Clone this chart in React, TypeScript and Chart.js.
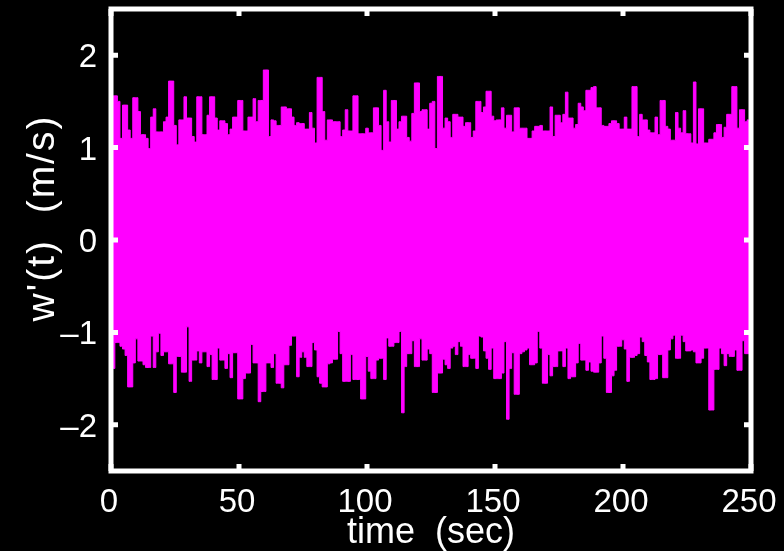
import { useEffect, useRef } from "react";
import { Chart, registerables } from "chart.js";

Chart.register(...registerables);

// sampling of the envelope (seconds)
const startTime = 0;
const sampleInterval = 1;

// upper envelope of w'(t) (m/s), one value per second, t = 0..250
const upperEnvelope = [
  1.55, 1.56, 1.56, 1.50, 1.10, 1.46, 1.46, 1.19, 1.10, 1.54,
  1.54, 1.39, 1.14, 1.14, 1.10, 0.99, 1.33, 1.42, 1.17, 1.17,
  1.17, 1.28, 1.33, 1.72, 1.72, 1.24, 1.03, 1.30, 1.30, 1.55,
  1.32, 1.32, 1.12, 1.06, 1.55, 1.55, 1.14, 1.14, 1.35, 1.55,
  1.55, 1.32, 1.19, 1.29, 1.29, 1.26, 1.14, 1.20, 1.33, 1.33,
  1.51, 1.51, 1.18, 1.18, 1.33, 1.33, 1.53, 1.28, 1.51, 1.51,
  1.84, 1.84, 1.12, 1.30, 1.29, 1.24, 1.24, 1.44, 1.44, 1.42,
  1.42, 1.33, 1.24, 1.27, 1.26, 1.26, 1.20, 1.20, 1.38, 1.21,
  1.05, 1.76, 1.76, 1.39, 1.08, 1.30, 1.30, 1.28, 1.28, 1.28,
  1.12, 1.19, 1.41, 1.18, 1.18, 1.56, 1.56, 1.15, 1.15, 1.15,
  1.21, 1.16, 1.16, 1.43, 1.43, 1.24, 0.97, 1.62, 1.28, 1.06,
  1.51, 1.51, 1.20, 1.28, 1.34, 1.34, 1.11, 1.07, 1.37, 1.70,
  1.70, 1.39, 1.41, 1.41, 1.20, 1.48, 1.50, 0.99, 1.77, 1.77,
  1.21, 1.32, 1.28, 1.11, 1.36, 1.36, 1.33, 1.33, 1.23, 1.27,
  1.27, 1.11, 1.18, 1.50, 1.50, 1.38, 1.44, 1.61, 1.61, 1.34,
  1.29, 1.30, 1.30, 1.43, 1.21, 1.35, 1.35, 1.17, 1.43, 1.43,
  1.21, 1.21, 1.21, 1.10, 1.10, 1.18, 1.23, 1.23, 1.24, 1.18,
  1.18, 1.18, 1.44, 1.12, 1.35, 1.35, 1.27, 1.36, 1.60, 1.32,
  1.32, 1.21, 1.25, 1.48, 1.44, 1.40, 1.62, 1.62, 1.65, 1.66,
  1.43, 1.43, 1.24, 1.23, 1.23, 1.26, 1.29, 1.29, 1.26, 1.20,
  1.20, 1.33, 1.20, 1.20, 1.66, 1.66, 1.12, 1.36, 1.30, 1.30,
  1.19, 1.16, 1.16, 1.33, 1.14, 1.51, 1.51, 1.23, 1.20, 1.08,
  1.08, 1.38, 1.21, 1.16, 1.40, 1.15, 1.15, 1.05, 1.71, 1.04,
  1.42, 1.42, 1.05, 1.05, 1.09, 1.09, 1.16, 1.25, 1.25, 1.11,
  1.22, 1.36, 1.36, 1.66, 1.66, 1.21, 1.41, 1.41, 1.28, 1.30,
  1.30,
];

// lower envelope of w'(t) (m/s), one value per second, t = 0..250
const lowerEnvelope = [
  -1.39, -1.39, -1.11, -1.11, -1.15, -1.18, -1.25, -1.59, -1.59, -1.33,
  -1.07, -1.31, -1.31, -1.35, -1.38, -1.38, -1.04, -1.38, -1.21, -1.01,
  -1.25, -1.21, -1.21, -1.34, -1.34, -1.65, -1.26, -1.26, -1.43, -1.43,
  -0.94, -1.53, -1.30, -1.30, -1.20, -1.33, -1.21, -1.21, -1.37, -1.24,
  -1.51, -1.51, -1.17, -1.30, -1.30, -1.39, -1.23, -1.49, -1.22, -1.22,
  -1.72, -1.72, -1.50, -1.44, -1.44, -1.13, -1.33, -1.33, -1.75, -1.64,
  -1.64, -1.33, -1.33, -1.38, -1.23, -1.55, -1.55, -1.60, -1.35, -1.35,
  -1.14, -1.04, -1.04, -1.48, -1.27, -1.21, -1.27, -1.37, -1.37, -1.11,
  -1.19, -1.48, -1.55, -1.59, -1.59, -1.34, -1.33, -1.29, -1.29, -0.99,
  -1.23, -1.53, -1.53, -1.53, -1.24, -1.51, -1.51, -1.51, -1.72, -1.72,
  -1.26, -1.42, -1.50, -1.50, -1.30, -1.28, -1.28, -1.51, -1.06, -1.15,
  -1.15, -1.11, -1.11, -0.99, -1.87, -1.37, -1.23, -1.23, -1.09, -1.37,
  -1.37, -1.07, -1.30, -1.30, -1.18, -1.23, -1.65, -1.65, -1.44, -1.44,
  -1.29, -1.35, -1.39, -1.17, -1.15, -1.24, -1.10, -1.15, -1.37, -1.37,
  -1.24, -1.28, -1.28, -1.39, -1.04, -1.05, -1.20, -1.28, -1.40, -1.17,
  -1.50, -1.50, -1.50, -1.44, -1.10, -1.94, -1.39, -1.22, -1.67, -1.67,
  -1.23, -1.21, -1.19, -1.17, -1.35, -1.35, -1.33, -0.99, -1.17, -1.55,
  -1.55, -1.24, -1.47, -1.37, -1.37, -1.20, -1.20, -1.37, -1.17, -1.50,
  -1.48, -1.48, -1.33, -1.12, -1.30, -1.30, -1.41, -1.32, -1.42, -1.43,
  -1.43, -1.33, -1.04, -1.28, -1.65, -1.65, -1.47, -1.41, -1.15, -1.15,
  -1.08, -1.18, -1.53, -1.27, -1.27, -1.25, -1.23, -1.05, -1.10, -1.25,
  -1.32, -1.51, -1.51, -1.50, -1.24, -1.24, -1.49, -1.49, -1.19, -1.07,
  -1.03, -1.28, -1.28, -1.03, -1.10, -1.20, -1.20, -1.19, -1.21, -1.33,
  -1.33, -1.28, -1.17, -1.17, -1.84, -1.84, -1.40, -1.40, -1.17, -1.23,
  -1.36, -1.23, -1.26, -1.26, -1.19, -1.41, -1.41, -1.09, -1.23, -1.23,
  -1.23,
];

const xTicks = [0, 50, 100, 150, 200, 250];
const yTicks = [-2, -1, 0, 1, 2];
const xTitle = "time  (sec)";
const yTitle = "w'(t)  (m/s)";

const MAGENTA = "#ff00ff";
const FONT = "'Liberation Sans', Arial, Helvetica, sans-serif";

const boxPlugin = {
  id: "matlabBox",
  afterDraw(chart: any) {
    const { ctx, chartArea, scales } = chart;
    const { left, right, top, bottom } = chartArea;
    ctx.save();
    ctx.strokeStyle = "#ffffff";
    ctx.lineWidth = 5;
    ctx.strokeRect(left, top, right - left, bottom - top);
    ctx.beginPath();
    const tl = 7;
    for (const v of xTicks) {
      const x = scales.x.getPixelForValue(v);
      ctx.moveTo(x, bottom);
      ctx.lineTo(x, bottom - tl);
      ctx.moveTo(x, top);
      ctx.lineTo(x, top + tl);
    }
    for (const v of yTicks) {
      const y = scales.y.getPixelForValue(v);
      ctx.moveTo(left, y);
      ctx.lineTo(left + tl, y);
      ctx.moveTo(right, y);
      ctx.lineTo(right - tl, y);
    }
    ctx.stroke();

    // y-axis title (rotated)
    ctx.fillStyle = "#ffffff";
    ctx.font = `39px ${FONT}`;
    try {
      (ctx as any).letterSpacing = "2px";
    } catch (e) {
      /* ignore */
    }
    ctx.textAlign = "center";
    ctx.textBaseline = "alphabetic";
    ctx.translate(54, 218);
    ctx.rotate(-Math.PI / 2);
    ctx.fillText(yTitle, 0, 0);
    ctx.restore();
  },
};

export default function App() {
  const canvasRef = useRef<HTMLCanvasElement | null>(null);

  useEffect(() => {
    document.body.style.margin = "0";
    document.body.style.background = "#000";
    const canvas = canvasRef.current;
    if (!canvas) return;
    const toPoints = (arr: number[]) =>
      arr.map((v, i) => ({ x: startTime + i * sampleInterval, y: v }));

    const chart = new Chart(canvas, {
      type: "line",
      data: {
        datasets: [
          {
            data: toPoints(upperEnvelope),
            borderColor: MAGENTA,
            backgroundColor: MAGENTA,
            borderWidth: 1,
            pointRadius: 0,
            stepped: "middle",
            fill: "+1",
          },
          {
            data: toPoints(lowerEnvelope),
            borderColor: MAGENTA,
            backgroundColor: MAGENTA,
            borderWidth: 1,
            pointRadius: 0,
            stepped: "middle",
            fill: false,
          },
        ],
      },
      options: {
        animation: false,
        responsive: false,
        devicePixelRatio: 1,
        layout: { padding: { left: 0, right: 33, top: 9, bottom: 0 } },
        plugins: {
          legend: { display: false },
          tooltip: { enabled: false },
        },
        scales: {
          x: {
            type: "linear",
            min: 0,
            max: 250,
            afterBuildTicks: (s: any) => {
              s.ticks = xTicks.map((v) => ({ value: v }));
            },
            afterFit: (s: any) => {
              s.height = 80;
              s.paddingLeft = 0;
              s.paddingRight = 0;
            },
            grid: { display: false },
            border: { display: false },
            ticks: {
              color: "#ffffff",
              font: { family: FONT, size: 33 },
              padding: 4,
              labelOffset: -2,
              maxRotation: 0,
              autoSkip: false,
            },
            title: {
              display: true,
              text: xTitle,
              color: "#ffffff",
              font: { family: FONT, size: 36 },
              padding: { top: 0, bottom: -4 },
            },
          },
          y: {
            type: "linear",
            min: -2.5,
            max: 2.5,
            afterBuildTicks: (s: any) => {
              s.ticks = yTicks.map((v) => ({ value: v }));
            },
            afterFit: (s: any) => {
              s.width = 111;
              s.paddingTop = 0;
              s.paddingBottom = 0;
            },
            grid: { display: false },
            border: { display: false },
            ticks: {
              color: "#ffffff",
              font: { family: FONT, size: 33 },
              padding: 6,
              labelOffset: 3,
              callback: (v: any) => String(v).replace("-", "\u2013"),
            },
            title: { display: false },
          },
        },
      },
      plugins: [boxPlugin],
    });
    return () => chart.destroy();
  }, []);

  return (
    <div
      style={{
        position: "fixed",
        left: 0,
        top: 0,
        width: 784,
        height: 551,
        background: "#000",
      }}
    >
      <canvas
        ref={canvasRef}
        width={784}
        height={551}
        style={{ display: "block", width: 784, height: 551 }}
      />
    </div>
  );
}
